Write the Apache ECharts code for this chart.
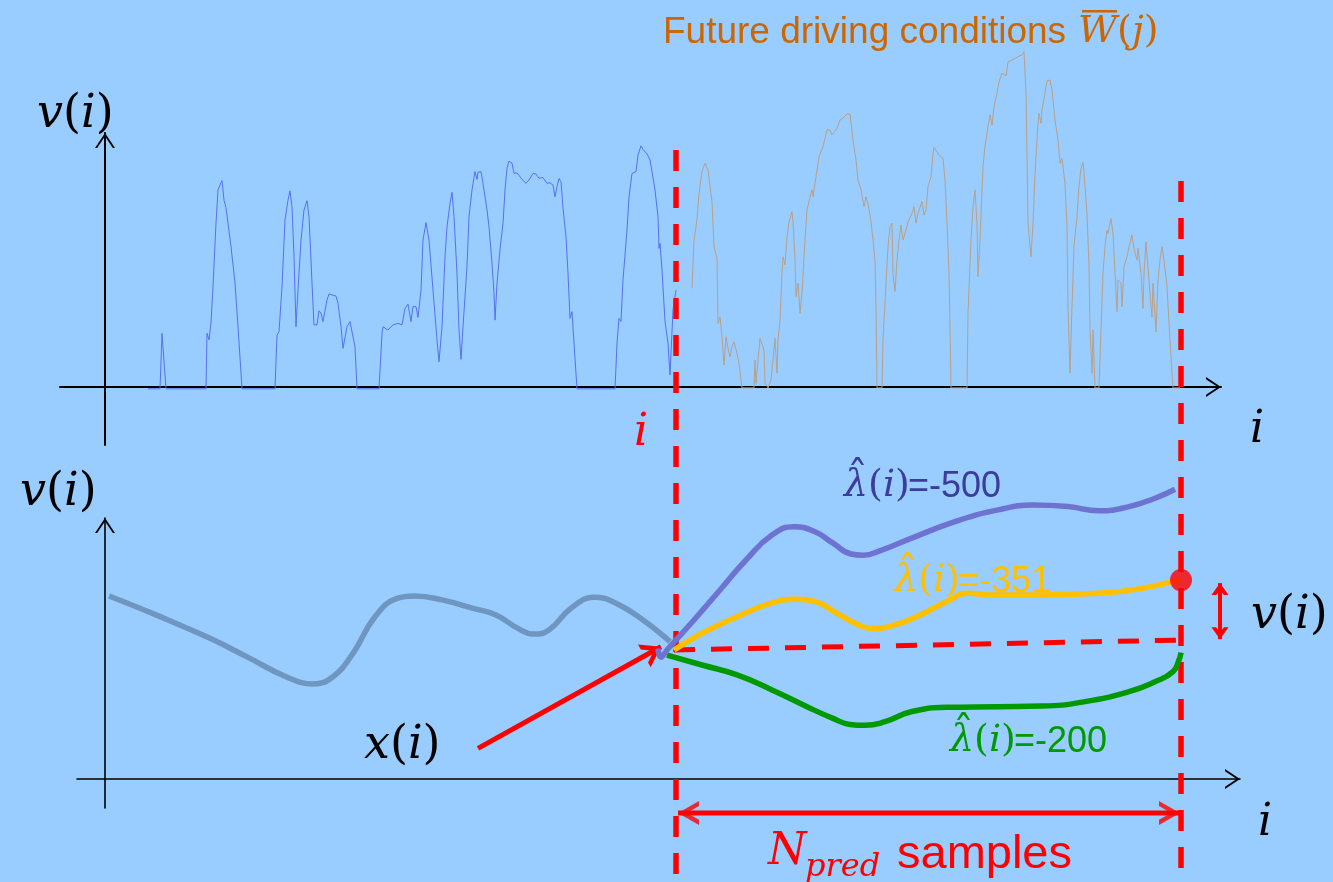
<!DOCTYPE html>
<html>
<head>
<meta charset="utf-8">
<script src="https://cdn.jsdelivr.net/npm/echarts@6/dist/echarts.min.js"></script>
<style>
  html, body { margin: 0; padding: 0; background: #99ccff; }
  #chart { width: 1333px; height: 882px; }
</style>
</head>
<body>
<div id="chart"></div>
<script>
// ---- Data -----------------------------------------------------------------
// Sample index i (0 at the vertical axis) and vehicle speed v (km/h).
const pastSpeed = [
  [43,-0.6],[55,-0.6],[57,17.9],[61,-0.6],[101,-0.6],[102,17.9],[104,15.7],[106,21.3],[108,33.4],
  [111,54.7],[113,65.7],[116,68.1],[117,68.8],[119,62.3],[121,59.7],[126,46.8],[130,34.7],[133,20.1],
  [137,-0.6],[170,-0.6],[172,17.3],[174,18.4],[177,33.4],[180,55.7],[183,62.3],[185,65.4],[187,60.1],
  [189,43.4],[191,20.1],[193,32.3],[196,49.0],[199,59.0],[202,62.1],[204,56.8],[207,34.6],[209,20.7],
  [212,20.7],[214,25.4],[216,24.6],[218,21.8],[222,29.0],[224,31.0],[231,30.3],[233,27.9],[236,20.1],
  [238,12.9],[240,13.4],[242,20.1],[245,21.8],[247,21.2],[250,13.4],[252,-0.6],[274,-0.6],[277,17.9],
  [278,20.1],[283,19.0],[288,20.7],[293,21.2],[297,20.7],[300,26.2],[303,27.6],[306,21.8],[308,26.8],
  [311,26.8],[313,23.2],[316,32.3],[318,49.0],[321,54.8],[324,49.0],[328,32.3],[332,15.7],[334,8.4],
  [337,20.1],[340,43.4],[342,53.4],[345,61.2],[347,64.9],[349,56.8],[352,37.9],[354,19.0],[356,9.2],
  [358,20.1],[362,40.1],[364,56.8],[367,65.7],[370,71.8],[372,69.2],[373,71.6],[376,71.8],[378,67.9],
  [382,59.0],[384,53.4],[387,41.2],[389,31.2],[390,22.3],[392,34.6],[395,45.7],[398,54.6],[400,65.7],
  [402,72.9],[404,75.3],[407,74.6],[409,71.2],[412,71.4],[417,69.2],[421,67.9],[424,69.0],[428,71.2],
  [431,71.0],[434,69.6],[438,69.8],[442,67.9],[445,68.1],[448,67.3],[450,63.4],[452,66.8],[454,69.5],
  [456,68.4],[458,59.6],[461,50.1],[463,37.9],[465,22.9],[467,25.1],[469,14.6],[472,-0.6],[510,-0.6],
  [512,14.6],[514,22.9],[516,21.8],[518,35.7],[522,52.3],[524,63.4],[527,71.2],[531,71.8],[533,77.3],
  [536,80.4],[538,79.2],[542,77.7],[545,75.7],[547,71.8],[550,65.7],[553,56.8],[554,46.2],[555,47.9],
  [557,39.0],[560,21.8],[563,14.6],[565,4.0],[567,3.4],[568,25.7],[571,32.3]
];

const futureSpeed = [
  [587,32.9],[589,49.0],[592,55.7],[594,64.6],[597,71.8],[600,74.6],[603,72.3],[607,61.8],[609,46.8],
  [612,42.9],[613,21.2],[615,23.4],[617,16.8],[619,7.3],[621,16.8],[623,12.9],[625,10.1],[627,13.4],
  [629,15.1],[632,11.2],[634,7.9],[637,-0.3],[649,-0.3],[650,9.0],[651,1.2],[653,9.0],[655,16.2],
  [657,16.2],[659,12.3],[660,1.3],[663,-0.3],[666,2.3],[668,9.0],[670,16.2],[672,4.6],[673,15.7],
  [675,22.3],[677,37.9],[678,43.4],[680,40.7],[682,50.1],[684,55.1],[687,58.4],[688,55.1],[690,42.3],
  [691,30.1],[693,34.6],[695,24.6],[697,31.2],[700,49.0],[702,59.0],[705,63.4],[707,65.7],[708,63.4],
  [711,70.1],[714,76.8],[718,80.1],[722,85.7],[725,85.7],[727,84.0],[729,83.4],[732,86.2],[735,89.0],
  [738,89.6],[742,91.0],[745,91.0],[748,82.3],[751,75.7],[753,69.0],[756,65.7],[759,60.1],[761,63.4],
  [763,61.2],[766,55.1],[768,49.0],[770,42.3],[771,26.8],[772,-0.3],[777,-0.3],[778,15.7],[781,34.6],
  [783,46.8],[785,53.4],[787,54.6],[788,37.9],[790,31.8],[792,42.3],[794,49.0],[796,54.0],[798,49.0],
  [801,52.3],[803,55.1],[807,57.9],[809,60.1],[811,54.6],[813,57.9],[817,61.8],[819,57.3],[821,59.0],
  [823,66.8],[826,70.1],[828,77.9],[829,79.9],[832,78.4],[834,77.3],[838,76.2],[840,69.0],[842,54.6],
  [844,37.9],[845,20.1],[846,-0.3],[862,-0.3],[863,24.6],[866,49.0],[868,60.1],[870,65.7],[872,54.6],
  [873,36.8],[875,49.0],[877,65.7],[878,73.4],[880,80.1],[883,86.8],[885,90.7],[887,87.3],[889,93.4],
  [892,97.9],[894,101.8],[897,104.6],[899,105.1],[901,103.7],[903,108.4],[907,109.0],[909,108.4],
  [913,110.1],[915,109.9],[917,110.7],[919,111.8],[921,97.9],[922,76.8],[923,54.6],[926,43.4],
  [928,54.6],[930,71.2],[933,87.9],[934,91.2],[936,87.9],[937,92.3],[940,97.9],[942,102.1],[945,102.3],
  [947,99.0],[950,89.0],[953,82.3],[955,74.6],[957,76.2],[958,73.4],[960,67.9],[962,53.4],[963,26.8],
  [965,4.6],[967,26.8],[969,46.8],[972,56.8],[974,66.8],[976,72.9],[978,74.8],[979,71.2],[982,57.9],
  [984,40.1],[985,19.0],[987,4.6],[988,19.0],[990,-0.3],[994,-0.3],[996,19.0],[998,37.9],[1000,46.8],
  [1002,52.3],[1003,51.2],[1006,56.2],[1008,51.2],[1010,37.9],[1012,25.1],[1013,35.7],[1016,34.6],
  [1017,26.8],[1019,40.1],[1022,43.4],[1024,46.8],[1027,50.7],[1028,47.9],[1030,44.6],[1032,42.3],
  [1033,46.2],[1036,37.9],[1038,26.2],[1039,37.9],[1041,48.4],[1043,48.4],[1045,31.2],[1047,23.4],
  [1048,34.6],[1051,18.4],[1053,35.7],[1055,42.3],[1057,46.8],[1059,42.3],[1062,33.4],[1064,21.2],
  [1067,4.6],[1068,-0.3],[1075,-0.3]
];

// State trajectory (lower panel), same sample index.
const pastState = [
  [4,61.0],[51,54.7],[105,46.9],[145,40.2],[181,34.1],[208,31.7],[228,34.1],[248,41.9],[270,54.1],
  [292,60.2],[310,61.0],[337,59.7],[368,56.9],[391,54.7],[413,50.2],[429,48.3],[444,49.7],[466,56.9],
  [489,60.6],[511,58.6],[538,53.0],[565,45.8]
];
const stateLambda500 = [
  [553,43.5],[556,40.6],[562,43.0],[589,53.0],[615,63.0],[641,73.0],[667,81.3],[689,84.1],[710,82.4],
  [728,78.6],[746,75.0],[758,74.6],[776,76.2],[806,80.2],[850,85.8],[893,89.7],[928,91.3],[963,90.8],
  [994,89.4],[1024,90.8],[1050,93.6],[1070,96.6]
];
const stateLambda351 = [
  [569,43.0],[597,48.6],[632,54.1],[663,58.3],[689,59.9],[710,59.1],[732,55.2],[754,51.3],[767,50.2],
  [789,51.3],[815,54.7],[841,59.1],[863,61.9],[889,61.3],[915,61.3],[959,61.6],[1002,62.1],[1037,63.6],
  [1068,65.8],[1076,66.3]
];
const stateLambda200 = [
  [562,41.3],[597,38.0],[632,34.7],[667,29.7],[702,24.1],[728,20.2],[745,18.2],[760,17.9],[780,19.1],
  [806,22.4],[841,23.9],[893,24.1],[937,24.3],[980,25.8],[1024,29.1],[1050,32.4],[1068,35.8],[1074,39.7],
  [1076,42.1]
];
const stateReference = [[569,43.0],[1074,46.3]];
const terminalState = [[1076,66.3]];
const lambdaValues = ['-500', '-351', '-200'];

// Present sample and end of the prediction horizon, with the vertical span
// of their markers in lower-panel units.
const presentIndex = 571;
const horizonEnd = 1076;
const presentMarker = [[presentIndex, 209.7], [presentIndex, -34.3]];
const horizonMarker = [[horizonEnd, 199.3], [horizonEnd, -34.3]];

// Arrows of the lower panel.
const stateArrow = [[373, 10.2], [556, 44.1]];
const deviationArrow = [[1115, 65.3], [1115, 46.6]];
const horizonArrow = [[573, -11.3], [1075, -11.3]];

// ---- Drawing ----------------------------------------------------------------
const RED = '#ff0000';
const SERIF = 'DejaVu Serif';
const SANS = 'Liberation Sans';

// Open arrow head (tip at the top centre), as a thin filled outline.
function chevron(w, h, t) {
  const th = Math.atan2(w / 2, h);
  const d = t / Math.sin(th), e = t / Math.cos(th);
  const f = (n) => n.toFixed(2);
  return 'path://M' + f(w / 2) + ',0L' + f(w) + ',' + f(h) + 'L' + f(w - e) + ',' + f(h) +
    'L' + f(w / 2) + ',' + f(d) + 'L' + f(e) + ',' + f(h) + 'L0,' + f(h) + 'Z';
}
const axisHead = chevron(20, 15, 1.8);
const redHead = chevron(26, 19, 4.6);
const wideHead = chevron(24, 21, 4.4);
const smallHead = chevron(17, 12, 3.8);

function axisPair(grid, xr, yr, width) {
  const line = {
    show: true, onZero: true,
    symbol: ['none', axisHead], symbolSize: [20, 15], symbolOffset: [0, -7.5],
    lineStyle: { color: '#000', width: width }
  };
  const common = {
    type: 'value', gridIndex: grid, axisLine: line,
    axisTick: { show: false }, axisLabel: { show: false }, splitLine: { show: false }
  };
  return {
    x: Object.assign({}, common, { min: xr[0], max: xr[1] }),
    y: Object.assign({}, common, { min: yr[0], max: yr[1] })
  };
}
const topAxes = axisPair(0, [-45, 1116], [-58 / 3, 254 / 3], 2);
const botAxes = axisPair(1, [-28, 1135], [-29 / 3, 87], 1.6);

const base = { type: 'line', symbol: 'none', showSymbol: false, clip: false, silent: true, z: 2 };
function line(grid, data, color, width, extra) {
  return Object.assign({}, base, {
    xAxisIndex: grid, yAxisIndex: grid, data: data,
    lineStyle: { color: color, width: width }
  }, extra || {});
}
const dashed = { type: [21, 16], cap: 'butt' };

const series = [
  line(0, pastSpeed, '#5671f0', 1),
  line(0, futureSpeed, '#b9a087', 1),
  line(1, presentMarker, RED, 5.5, { lineStyle: Object.assign({ color: RED, width: 5.5 }, dashed), z: 3 }),
  line(1, horizonMarker, RED, 5.5, { lineStyle: Object.assign({ color: RED, width: 5.5 }, dashed), z: 3 }),
  line(1, pastState, '#6e96c0', 5.5, { smooth: 0.45, z: 4 }),
  line(1, stateReference, RED, 5, {
    lineStyle: Object.assign({ color: RED, width: 5 }, dashed), z: 4,
    markLine: {
      silent: true, animation: false, symbol: ['none', 'none'],
      label: { show: false }, emphasis: { disabled: true },
      lineStyle: { color: RED, width: 5, type: 'solid' },
      data: [
        [{ coord: stateArrow[0], symbol: 'none' },
         { coord: stateArrow[1], symbol: redHead, symbolSize: [26, 19], symbolOffset: [0, 9.5] }],
        [{ coord: deviationArrow[0], symbol: smallHead, symbolSize: [17, 12], symbolOffset: [0, 6], lineStyle: { width: 4 } },
         { coord: deviationArrow[1], symbol: smallHead, symbolSize: [17, 12], symbolOffset: [0, 6] }]
      ]
    }
  }),
  line(1, stateLambda200, '#009900', 5.5, { smooth: 0.5, z: 5 }),
  line(1, stateLambda351, '#ffc000', 5.5, { smooth: 0.5, z: 5 }),
  line(1, stateLambda500, '#6e72d0', 5.5, { smooth: 0.5, z: 5 }),
  line(1, horizonArrow, RED, 5, { z: 5 }),
  {
    type: 'scatter', xAxisIndex: 1, yAxisIndex: 1, clip: false, silent: true, z: 6,
    symbol: wideHead, symbolSize: [24, 21],
    itemStyle: { color: RED },
    data: [
      { value: horizonArrow[0], symbolRotate: 90, symbolOffset: [10.5, 0] },
      { value: horizonArrow[1], symbolRotate: -90, symbolOffset: [-10.5, 0] }
    ]
  },
  {
    type: 'scatter', xAxisIndex: 1, yAxisIndex: 1, clip: false, silent: true, z: 7,
    symbol: 'circle', symbolSize: 22, itemStyle: { color: RED }, data: terminalState
  }
];

// ---- Annotations -------------------------------------------------------------
function rich(size, color) {
  return {
    it: { fontFamily: SERIF, fontStyle: 'italic', fontSize: size, fill: color },
    rm: { fontFamily: SERIF, fontSize: size, fill: color }
  };
}
function text(x, y, str, size, color) {
  return {
    type: 'text', x: x, y: y, z: 100, silent: true,
    style: {
      text: str, rich: rich(size, color), fill: color,
      font: size + 'px ' + SERIF,
      align: 'left', verticalAlign: 'middle', textAlign: 'left', textVerticalAlign: 'middle'
    }
  };
}
function plain(x, y, str, font, color) {
  return {
    type: 'text', x: x, y: y, z: 100, silent: true,
    style: { text: str, font: font, fill: color, align: 'left', verticalAlign: 'middle',
      textAlign: 'left', textVerticalAlign: 'middle' }
  };
}
// lambda-hat label: serif "λ(i)", a hat above the lambda, then "=value" in sans
function lambdaLabel(x, y, value, color) {
  return [
    text(x, y, '{it|\u03bb}{rm|(}{it|i}{rm|)}', 38, color),
    plain(x + 3, y - 5, '\u02c6', '42px ' + SERIF, color),
    plain(x + 64, y + 1, '=' + value, '36px ' + SANS, color)
  ];
}
const vOfI = '{it|v}{rm|(}{it|i}{rm|)}';

const graphics = [
  text(37, 115, vOfI, 46, '#000'),
  text(1250, 431, '{it|i}', 44, '#000'),
  text(634, 434, '{it|i}', 44, RED),
  plain(663, 33, 'Future driving conditions', '37px ' + SANS, '#cc6600'),
  text(1078, 32, '{it|W}{rm|(}{it|j}{rm|)}', 38, '#cc6600'),
  { type: 'rect', z: 100, silent: true, shape: { x: 1082, y: 10, width: 35, height: 2.6 }, style: { fill: '#cc6600' } },
  text(20, 493, vOfI, 46, '#000'),
  text(364, 746, '{it|x}{rm|(}{it|i}{rm|)}', 46, '#000'),
  text(1251, 616, vOfI, 46, '#000'),
  ...lambdaLabel(844, 486, lambdaValues[0], '#3c3c9a'),
  ...lambdaLabel(894, 581, lambdaValues[1], '#ffc000'),
  ...lambdaLabel(950, 741, lambdaValues[2], '#009900'),
  text(1258, 824, '{it|i}', 44, '#000'),
  plain(768, 853, 'N', 'italic 44px ' + SERIF, RED),
  plain(805, 868, 'pred', 'italic 32px ' + SERIF, RED),
  plain(897, 855, 'samples', '47px ' + SANS, RED)
];

const chart = echarts.init(document.getElementById('chart'), null, { renderer: 'canvas' });
chart.setOption({
  backgroundColor: '#99ccff',
  animation: false,
  grid: [
    { left: 60, top: 133, width: 1161, height: 312, outerBoundsMode: 'none', containLabel: false },
    { left: 77, top: 518, width: 1163, height: 290, outerBoundsMode: 'none', containLabel: false }
  ],
  xAxis: [topAxes.x, botAxes.x],
  yAxis: [topAxes.y, botAxes.y],
  series: series,
  graphic: graphics
});
</script>
</body>
</html>
